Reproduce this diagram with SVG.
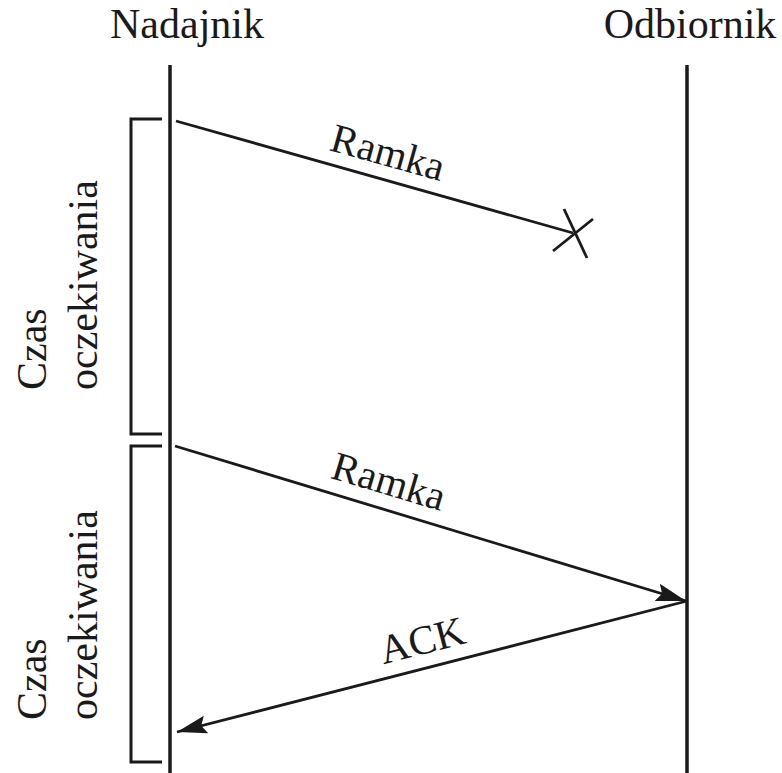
<svg xmlns="http://www.w3.org/2000/svg" width="782" height="773" viewBox="0 0 782 773">
<style>
text{font-family:"Liberation Serif","Times New Roman",serif;fill:#1a1a1a}
.t{font-size:42px}
.lab{font-size:41px}
.life{stroke:#1a1a1a;stroke-width:3.5;fill:none}
.br{stroke:#1a1a1a;stroke-width:3;fill:none}
.msg{stroke:#1a1a1a;stroke-width:2.8;fill:none}
</style>
<defs>
<marker id="ah" markerUnits="userSpaceOnUse" markerWidth="32" markerHeight="20" viewBox="0 0 32 20" refX="30" refY="10" orient="auto">
<path d="M0,1 L30,10 L0,19 L5,10 Z" fill="#1a1a1a"/>
</marker>
</defs>
<rect width="782" height="773" fill="#fff"/>
<g id="nadajnik">
<text class="t" x="187" y="38" text-anchor="middle">Nadajnik</text>
<line class="life" x1="170" y1="65" x2="170" y2="773"/>
</g>
<g id="odbiornik">
<text class="t" x="690" y="38" text-anchor="middle">Odbiornik</text>
<line class="life" x1="687" y1="65" x2="687" y2="773"/>
</g>
<g id="czas1">
<path class="br" d="M162,119 H131 V434 H162"/>
<text class="t" transform="translate(46,390) rotate(-90)">Czas</text>
<text class="t" transform="translate(97,390) rotate(-90)">oczekiwania</text>
</g>
<g id="czas2">
<path class="br" d="M162,446 H131 V762 H162"/>
<text class="t" transform="translate(46,720) rotate(-90)">Czas</text>
<text class="t" transform="translate(97,720) rotate(-90)">oczekiwania</text>
</g>
<g id="connectors">
<g id="ramka1">
<line class="msg" x1="176" y1="121" x2="573" y2="233"/>
<line class="msg" x1="564" y1="209" x2="587" y2="258"/>
<line class="msg" x1="553" y1="251" x2="593" y2="219"/>
<text class="lab" transform="translate(388,152) rotate(15.5)" text-anchor="middle" dy="14">Ramka</text>
</g>
<g id="ramka2">
<line class="msg" x1="175" y1="446" x2="686" y2="601" marker-end="url(#ah)"/>
<text class="lab" transform="translate(389,481) rotate(16.7)" text-anchor="middle" dy="14">Ramka</text>
</g>
<g id="ack">
<line class="msg" x1="687" y1="601" x2="177" y2="732" marker-end="url(#ah)"/>
<text class="lab" transform="translate(422,640) rotate(-14.4)" text-anchor="middle" dy="14">ACK</text>
</g>
</g>
</svg>
